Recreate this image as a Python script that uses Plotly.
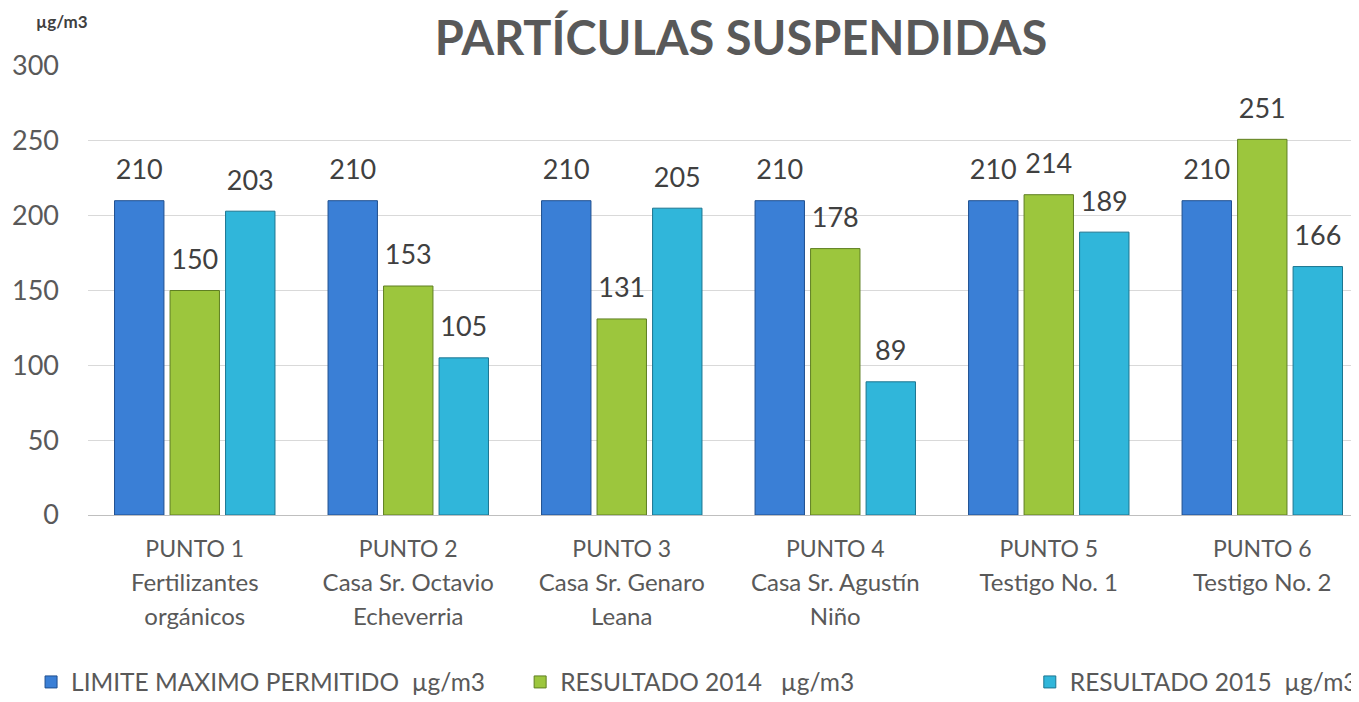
import plotly.graph_objects as go

categories = ["PUNTO 1", "PUNTO 2", "PUNTO 3", "PUNTO 4", "PUNTO 5", "PUNTO 6"]
cat_line2 = ["Fertilizantes", "Casa Sr. Octavio", "Casa Sr. Genaro", "Casa Sr. Agustín", "Testigo No. 1", "Testigo No. 2"]
cat_line3 = ["orgánicos", "Echeverria", "Leana", "Niño", "", ""]

limite = [210, 210, 210, 210, 210, 210]
res2014 = [150, 153, 131, 178, 214, 251]
res2015 = [203, 105, 205, 89, 189, 166]

series_names = ["LIMITE MAXIMO PERMITIDO\u00a0\u00a0µg/m3", "RESULTADO 2014\u00a0\u00a0\u00a0µg/m3", "RESULTADO 2015\u00a0\u00a0µg/m3"]
series_vals = [limite, res2014, res2015]
series_colors = ["#3a7fd6", "#9cc63d", "#30b6da"]
series_lines = ["#1f4f8f", "#5f7f22", "#1c7590"]
legend_ids = ["legend", "legend2", "legend3"]
legend_x = [-0.0448, 0.340, 0.741]

FONT = "Lato"
GRAY = "#595959"

# page body has an 8px margin, so the figure is drawn 8px in from the top-left
W, H = 1351, 694
ML, MT, MB = 80, 58, 187
PH = H - MT - MB
PW = W - ML

ticktext = []
for a, b, c in zip(categories, cat_line2, cat_line3):
    parts = ["<span style='font-size:23px'>%s</span>" % a, "<span style='font-size:24px'>%s</span>" % b]
    if c:
        parts.append("<span style='font-size:24px'>%s</span>" % c)
    ticktext.append("<br>".join(parts))

fig = go.Figure()
for name, vals, col, lc, lg in zip(series_names, series_vals, series_colors, series_lines, legend_ids):
    fig.add_trace(go.Bar(
        x=list(range(len(categories))), y=vals, name=name,
        marker=dict(color=col, line=dict(color=lc, width=1)),
        text=vals,
        texttemplate="<span style='font-size:27px'>%{y}</span><br>\u00a0",
        textposition="outside", constraintext="none", cliponaxis=False,
        textfont=dict(family=FONT, size=12, color="#404040"),
        legend=lg,
    ))

fig.update_layout(
    width=W, height=H,
    margin=dict(l=ML, r=0, t=MT, b=MB, autoexpand=False),
    paper_bgcolor="white", plot_bgcolor="white",
    barmode="group", bargap=0.22, bargroupgap=0.11,
    font=dict(family=FONT, color=GRAY),
    title=dict(text="<b>PARTÍCULAS SUSPENDIDAS</b>", x=733 / W, xanchor="center",
               y=1 - 31 / H, yanchor="middle", yref="container",
               font=dict(family=FONT, size=47, color=GRAY)),
    xaxis=dict(tickvals=list(range(len(categories))), ticktext=ticktext,
               range=[-0.5, 5.453], showgrid=False, showline=True,
               linecolor="#bfbfbf", ticks="", ticklabelstandoff=10,
               tickfont=dict(family=FONT, size=26, color=GRAY)),
    yaxis=dict(range=[0, 300], tickvals=[0, 50, 100, 150, 200, 250, 300],
               gridcolor="#d9d9d9", zeroline=False, showline=False,
               ticks="", ticklabelstandoff=28,
               tickfont=dict(family=FONT, size=27, color=GRAY)),
    showlegend=True,
)

leg_y = (MT + PH - 674) / PH
leg_common = dict(orientation="h", yanchor="middle", y=leg_y, xanchor="left",
                  font=dict(family=FONT, size=24.5, color=GRAY), bgcolor="rgba(0,0,0,0)")
fig.update_layout(
    legend=dict(x=legend_x[0], **leg_common),
    legend2=dict(x=legend_x[1], **leg_common),
    legend3=dict(x=legend_x[2], **leg_common),
)

fig.add_annotation(text="<b>µg/m3</b>", xref="paper", yref="paper",
                   x=(54 - ML) / PW, y=1 + (MT - 13) / PH, xanchor="center", yanchor="middle",
                   showarrow=False, font=dict(family=FONT, size=17, color="#404040"))

fig.write_html("out.html")
